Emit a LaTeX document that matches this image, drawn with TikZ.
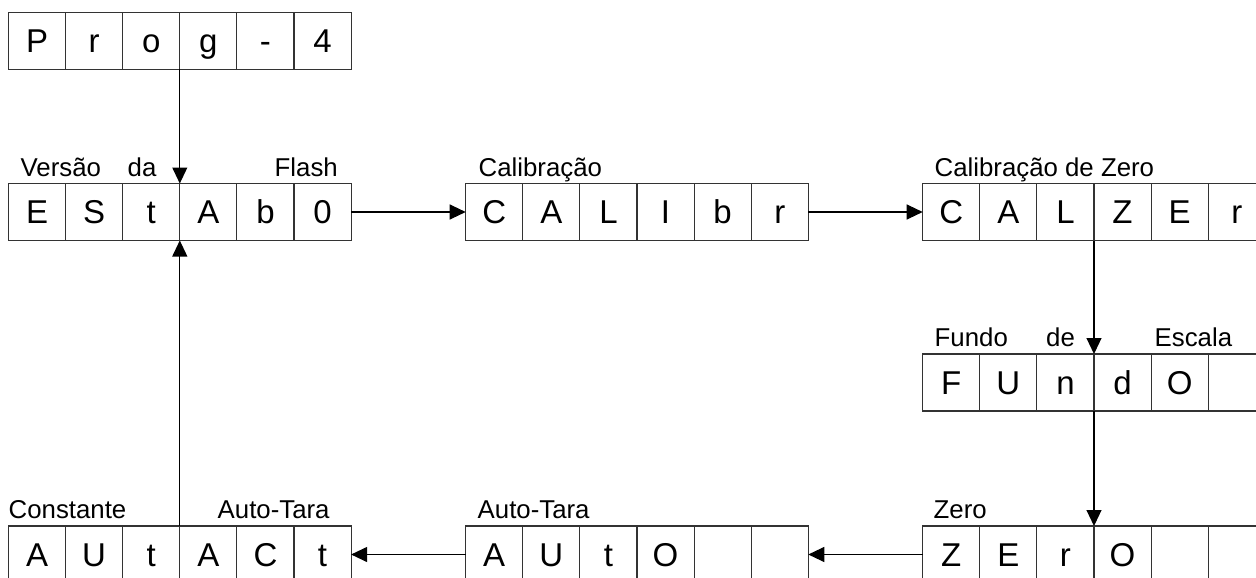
\documentclass[tikz,border=0pt]{standalone}
\usepackage{fontspec}
\setmainfont{Liberation Sans}
\usetikzlibrary{arrows.meta}
\tikzset{
  cell/.style={draw=black!80, line width=1.1pt, minimum width=57.1pt, minimum height=57pt,
    inner sep=0pt, outer sep=0pt, font=\fontsize{33}{33}\selectfont,
    text height=23.6pt, text depth=0pt},
  lbl/.style={anchor=base west, inner sep=0pt, font=\fontsize{25.8}{26}\selectfont},
  conn/.style={line width=1.1pt, -{Triangle[length=16pt,width=15pt]}},
}
\newcommand\cellrow[4]{%
  \foreach \t [count=\i] in {#4} {\node[cell] (#1\i) at ({#2+(\i-0.5)*57.1},#3) {\t};}}
\begin{document}
\begin{tikzpicture}[x=1pt,y=-1pt]
\useasboundingbox (0,0) rectangle (1256,578);
\clip (0,0) rectangle (1256,578);
% rows
\cellrow{prog}{8.5}{41}{P,r,o,g,-,4}
\cellrow{esta}{8.5}{212}{E,S,t,A,b,0}
\cellrow{cal}{465.7}{212}{C,A,L,I,b,r}
\cellrow{cz}{922.7}{212}{C,A,L,Z,E,r}
\cellrow{fu}{922.7}{382.5}{F,U,n,d,O,{}}
\cellrow{ze}{922.7}{554.5}{Z,E,r,O,{},{}}
\cellrow{ao}{465.7}{554.5}{A,U,t,O,{},{}}
\cellrow{ac}{8.5}{554.5}{A,U,t,A,C,t}
% labels
\node[lbl] (l1) at (20.5,176) {Versão};
\node[lbl] (l2) at (127.5,176) {da};
\node[lbl] (l3) at (274.5,176) {Flash};
\node[lbl] (l4) at (478.5,176) {Calibração};
\node[lbl] (l5) at (934.5,176) {Calibração de Zero};
\node[lbl] (l6) at (934.5,346.5) {Fundo};
\node[lbl] (l7) at (1046,346.5) {de};
\node[lbl] (l8) at (1154.5,346.5) {Escala};
\node[lbl] (l9) at (8.5,518.5) {Constante};
\node[lbl] (l10) at (217.5,518.5) {Auto-Tara};
\node[lbl] (l11) at (477.5,518.5) {Auto-Tara};
\node[lbl] (l12) at (933.5,518.5) {Zero};
% connectors
\draw[conn] (prog4.south west) -- (esta4.north west);
\draw[conn] (esta6.east) -- (cal1.west);
\draw[conn] (cal6.east) -- (cz1.west);
\draw[conn] (cz4.south west) -- (fu4.north west);
\draw[conn] (fu4.south west) -- (ze4.north west);
\draw[conn] (ze1.west) -- (ao6.east);
\draw[conn] (ao1.west) -- (ac6.east);
\draw[conn] (ac4.north west) -- (esta4.south west);
\end{tikzpicture}
\end{document}
